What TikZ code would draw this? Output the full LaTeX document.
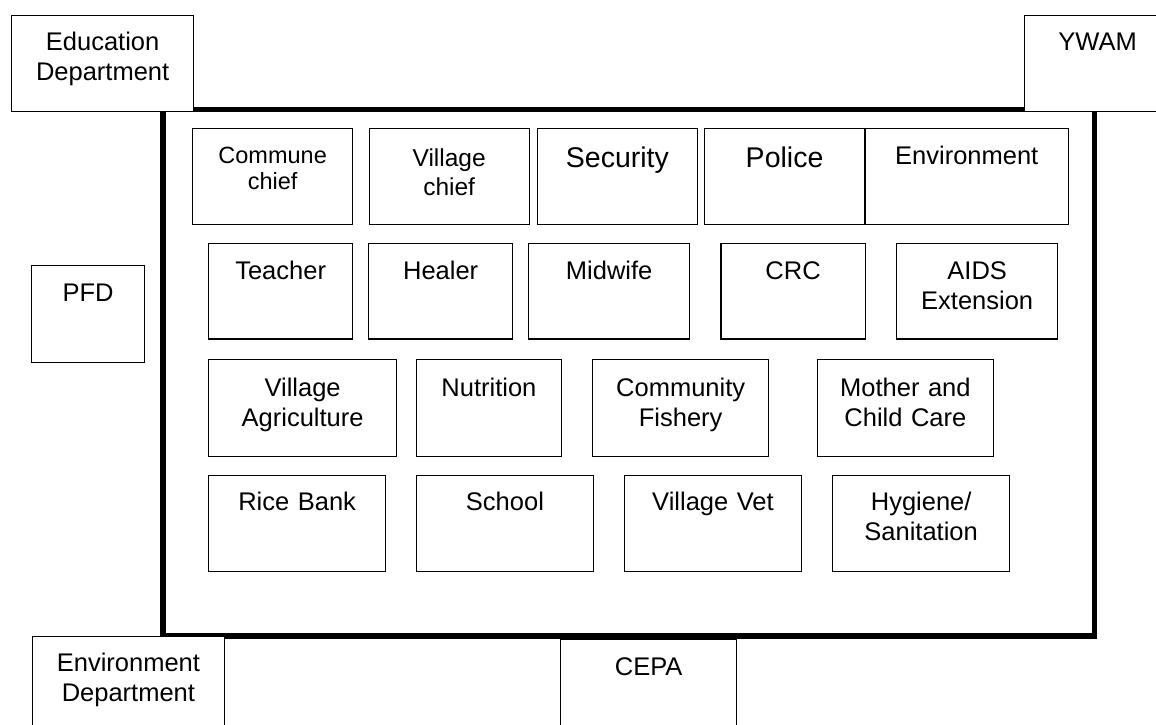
\documentclass[tikz,border=0pt]{standalone}
\usepackage{fontspec}
\setmainfont{Liberation Sans}
\tikzset{
  unit/.style={draw, fill=white, line width=1.3pt, inner sep=0pt, anchor=north west,
    align=center, text height=36pt, text depth=60pt,
    font=\fontsize{25.5}{30}\selectfont},
  village/.style={draw, line width=5.5pt, inner sep=0pt, anchor=north west}
}
\begin{document}
\begin{tikzpicture}[x=1pt, y=-1pt]
  \useasboundingbox (0,0) rectangle (1156,724);
  \clip (0,0) rectangle (1156,724);
  \node[village, minimum width=931.5pt, minimum height=526.5pt] (village) at (160,106.5) {};
  \node[unit, text width=182pt, text height=34.5pt, text depth=61.5pt] (edu) at (11,15) {Education\\Department};
  \node[unit, text width=146pt, text height=35pt, text depth=61pt] (ywam) at (1024,15) {YWAM};
  \node[unit, text width=113pt, text depth=61pt] (pfd) at (31,265) {PFD};
  \node[unit, text width=192.5pt, text height=35pt, text depth=75pt] (envdept) at (31.5,636) {Environment\\Department};
  \node[unit, text width=176pt, text depth=74pt] (cepa) at (560,639) {CEPA};
  \node[unit, text width=160pt, text height=35.3pt, text depth=60.7pt,
    font=\fontsize{23.5}{26}\selectfont] (commune) at (192,128) {Commune\\chief};
  \node[unit, text width=160pt, text height=37.7pt, text depth=58.3pt,
    font=\fontsize{24.5}{29}\selectfont] (vchief) at (368.5,128) {Village\\chief};
  \node[unit, text width=160.5pt, text height=38.7pt, text depth=57.3pt,
    font=\fontsize{28.5}{32}\selectfont] (security) at (536.5,128) {Security};
  \node[unit, text width=160.6pt, text height=38.7pt, text depth=57.3pt,
    font=\fontsize{28.5}{32}\selectfont] (police) at (703.6,128) {Police};
  \node[unit, text width=203.8pt, text height=36.3pt, text depth=59.7pt] (environment) at (864.2,128) {Environment};
  \node[unit, text width=144pt, text height=36.6pt, text depth=59pt] (teacher) at (208,242.7) {Teacher};
  \node[unit, text width=144pt, text height=36.6pt, text depth=59pt] (healer) at (368,242.7) {Healer};
  \node[unit, text width=161pt, text height=36.6pt, text depth=59pt] (midwife) at (528,242.7) {Midwife};
  \node[unit, text width=144.3pt, text height=36.6pt, text depth=59pt] (crc) at (720.3,242.7) {CRC};
  \node[unit, text width=161pt, text height=36.6pt, text depth=59pt] (aids) at (896,242.7) {AIDS\\Extension};
  \node[unit, text width=188pt, text height=36.7pt, text depth=60.3pt] (agriculture) at (208,359) {Village\\Agriculture};
  \node[unit, text width=144.5pt, text height=36.7pt, text depth=60.3pt] (nutrition) at (416,359) {Nutrition};
  \node[unit, text width=176pt, text height=36.7pt, text depth=60.3pt] (fishery) at (592,359) {Community\\Fishery};
  \node[unit, text width=176.5pt, text height=36.7pt, text depth=60.3pt] (childcare) at (816.5,359) {Mother and\\Child Care};
  \node[unit, text width=177pt, text height=35pt, text depth=61pt] (ricebank) at (208,475) {Rice Bank};
  \node[unit, text width=176.6pt, text height=35pt, text depth=61pt] (school) at (416,475) {School};
  \node[unit, text width=176.6pt, text height=35pt, text depth=61pt] (vet) at (624,475) {Village Vet};
  \node[unit, text width=177pt, text height=35pt, text depth=61pt] (hygiene) at (832,475) {Hygiene/\\Sanitation};
\end{tikzpicture}
\end{document}
